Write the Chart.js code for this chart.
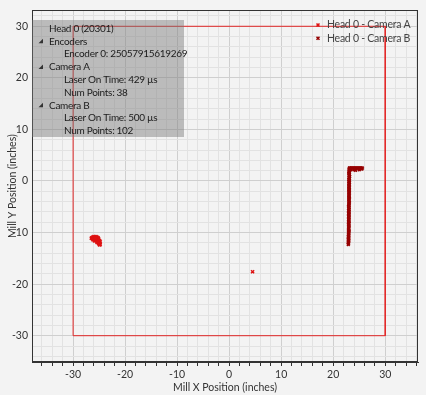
<!DOCTYPE html>
<html>
<head>
<meta charset="utf-8">
<script src="https://cdn.jsdelivr.net/npm/chart.js@4.4.1/dist/chart.umd.min.js"></script>
<style>
html,body{margin:0;padding:0;background:#f3f3f3;}
canvas{display:block;}
</style>
</head>
<body>
<canvas id="c" width="426" height="395"></canvas>
<script>
// ---- data ----
const seriesNames = ["Head 0 - Camera A", "Head 0 - Camera B"];
const frame = [[-30,-30],[-30,30],[30,30],[30,-30],[-30,-30]];
const cameraA = [
  [-26.4,-11.0],[-26.2,-10.9],[-26.0,-10.8],[-25.8,-10.9],[-25.6,-10.8],[-25.4,-10.9],[-25.2,-11.0],
  [-26.3,-11.2],[-26.1,-11.1],[-25.9,-11.2],[-25.7,-11.1],[-25.5,-11.2],[-25.3,-11.1],[-25.1,-11.2],
  [-26.2,-11.4],[-26.0,-11.4],[-25.8,-11.3],[-25.6,-11.4],[-25.4,-11.5],[-25.2,-11.4],[-25.0,-11.5],
  [-25.9,-11.6],[-25.6,-11.6],[-25.3,-11.7],[-25.1,-11.7],[-24.9,-11.6],
  [-25.4,-11.9],[-25.2,-11.9],[-25.0,-11.9],[-24.8,-11.8],
  [-25.1,-12.1],[-24.9,-12.1],[-24.8,-12.3],[-25.0,-12.2],
  [-26.5,-11.1],[-25.7,-11.0],[-24.9,-12.4],
  [4.5,-17.6]
];
const cameraB = [
  [23.10,2.5],[23.05,2.3],[23.15,2.1],[23.05,1.9],[23.10,1.7],[23.00,1.5],[23.10,1.3],[23.05,1.1],
  [23.15,0.9],[23.05,0.7],[23.10,0.5],[23.00,0.3],[23.10,0.1],[23.05,-0.1],[23.10,-0.3],[23.00,-0.5],
  [23.10,-0.7],[23.05,-0.9],[23.00,-1.1],[23.10,-1.3],[23.05,-1.5],[23.00,-1.7],[23.10,-1.9],[23.05,-2.1],
  [23.00,-2.3],[23.10,-2.5],[23.05,-2.7],[23.00,-2.9],[23.05,-3.1],[23.10,-3.3],[23.00,-3.5],[23.05,-3.7],
  [23.00,-3.9],[23.10,-4.1],[23.05,-4.3],[23.00,-4.5],[23.05,-4.7],[22.95,-4.9],[23.05,-5.1],[23.00,-5.3],
  [23.05,-5.5],[22.95,-5.7],[23.05,-5.9],[23.00,-6.1],[22.95,-6.3],[23.05,-6.5],[23.00,-6.7],[22.95,-6.9],
  [23.05,-7.1],[23.00,-7.3],[22.95,-7.5],[23.00,-7.7],[23.05,-7.9],[22.95,-8.1],[23.00,-8.3],[22.95,-8.5],
  [23.05,-8.7],[23.00,-8.9],[22.95,-9.1],[23.00,-9.3],[22.95,-9.5],[23.05,-9.7],[22.95,-9.9],[23.00,-10.1],
  [22.95,-10.3],[23.00,-10.5],[22.90,-10.7],[23.00,-10.9],[22.95,-11.1],[22.90,-11.3],[23.00,-11.5],
  [22.95,-11.7],[22.90,-11.9],[22.95,-12.1],[22.90,-12.3],
  [23.2,2.5],[23.4,2.5],[23.6,2.5],[23.8,2.5],[24.0,2.5],[24.2,2.5],[24.4,2.5],[24.6,2.5],[24.8,2.5],
  [25.0,2.5],[25.2,2.5],[25.4,2.5],[25.6,2.5],
  [23.4,2.2],[24.0,2.2],[24.3,2.1],[25.0,2.2],[25.5,2.3],
  [-26.3,-11.1],[-26.0,-11.3],[-25.7,-11.3],[-25.5,-11.5],[-25.3,-11.3],[-25.8,-11.5],[-25.2,-11.6],[-25.0,-12.0],[-25.5,-11.0]
];
const infoLines = [
  {level:0, text:"Head 0 (20301)"},
  {level:1, text:"Encoders", arrow:true},
  {level:2, text:"Encoder 0: 25057915619269"},
  {level:1, text:"Camera A", arrow:true},
  {level:2, text:"Laser On Time: 429 \u00b5s"},
  {level:2, text:"Num Points: 38"},
  {level:1, text:"Camera B", arrow:true},
  {level:2, text:"Laser On Time: 500 \u00b5s"},
  {level:2, text:"Num Points: 102"}
];
const xTitle = "Mill X Position (inches)";
const yTitle = "Mill Y Position (inches)";
const colorA = "rgb(222,18,18)";
const colorB = "rgb(150,0,0)";

const FONT = "Lato, 'Open Sans', sans-serif";
const toXY = a => a.map(p => ({x:p[0], y:p[1]}));

const overlay = {
  id:'overlay',
  afterDraw(chart){
    const ctx = chart.ctx, a = chart.chartArea;
    ctx.save();
    // plot border
    ctx.strokeStyle = '#333';
    ctx.lineWidth = 1;
    ctx.strokeRect(Math.round(a.left)+0.5, Math.round(a.top)+0.5, Math.round(a.right-a.left)-1, Math.round(a.bottom-a.top)-1);
    // info box
    const bx = Math.round(a.left), by = 20, bw = 152, bh = 117;
    ctx.fillStyle = 'rgba(120,120,120,0.45)';
    ctx.fillRect(bx, by, bw, bh);
    ctx.textBaseline = 'middle';
    ctx.textAlign = 'left';
    ctx.font = "10px " + FONT;
    try { ctx.letterSpacing = '-0.3px'; } catch(e) {}
    ctx.fillStyle = '#1a1a1a';
    infoLines.forEach((l, i) => {
      const y = 28.5 + i*12.8;
      const x = l.level === 2 ? 64 : 49;
      if (l.arrow) {
        ctx.beginPath();
        ctx.moveTo(43, y-2.5); ctx.lineTo(43, y+2); ctx.lineTo(38.5, y+2); ctx.closePath();
        ctx.fillStyle = '#333'; ctx.fill();
        ctx.fillStyle = '#1a1a1a';
      }
      ctx.fillText(l.text, x, y);
    });
    // legend
    ctx.font = "10.5px " + FONT;
    try { ctx.letterSpacing = '-0.25px'; } catch(e) {}
    const cols = [colorA, colorB];
    seriesNames.forEach((n, i) => {
      const y = 25 + i*13.3;
      ctx.strokeStyle = cols[i];
      ctx.beginPath();
      ctx.moveTo(316.5, y-1.5); ctx.lineTo(319.5, y+1.5);
      ctx.moveTo(319.5, y-1.5); ctx.lineTo(316.5, y+1.5);
      ctx.lineWidth = 1.5; ctx.stroke();
      ctx.fillStyle = '#444';
      ctx.fillText(n, 327, y);
    });
    ctx.restore();
  }
};

const gridColor = c => (c.tick && Math.abs(c.tick.value % 10) < 1e-9) ? '#cfcfcf' : '#e2e2e2';
const tickCb = v => (Math.abs(v % 10) < 1e-9) ? String(v) : '';

new Chart(document.getElementById('c'), {
  type:'scatter',
  data:{
    datasets:[
      {label:'frame', data:toXY(frame), showLine:true, borderColor:'rgb(226,40,40)', borderWidth:1, pointRadius:0, order:3},
      {label:seriesNames[1], data:toXY(cameraB), pointStyle:'crossRot', pointRadius:2, borderColor:colorB, backgroundColor:colorB, borderWidth:1.6, order:2},
      {label:seriesNames[0], data:toXY(cameraA), pointStyle:'crossRot', pointRadius:2.2, borderColor:colorA, backgroundColor:colorA, borderWidth:1.5, order:1}
    ]
  },
  options:{
    responsive:false,
    animation:false,
    devicePixelRatio:1,
    layout:{padding:{top:7,right:8,left:0,bottom:0}},
    plugins:{legend:{display:false}, tooltip:{enabled:false}},
    scales:{
      x:{
        type:'linear', min:-37.9, max:36.3,
        afterFit(s){ s.height = 33; },
        ticks:{stepSize:2, includeBounds:false, autoSkip:false, maxRotation:0, callback:tickCb, color:'#333', font:{family:FONT, size:10.5}, padding:2},
        grid:{color:gridColor, tickColor:'#333', tickLength:4, drawTicks:true},
        border:{display:true, color:'#333'},
        title:{display:true, text:xTitle, color:'#333', font:{family:FONT, size:10.5}, padding:{top:0,bottom:1}}
      },
      y:{
        type:'linear', min:-35.1, max:33.1,
        afterFit(s){ s.width = 32; },
        ticks:{stepSize:2, includeBounds:false, autoSkip:false, callback:tickCb, color:'#333', font:{family:FONT, size:10.5}, padding:4},
        grid:{color:gridColor, drawTicks:false},
        border:{display:true, color:'#333'},
        title:{display:true, text:yTitle, color:'#333', font:{family:FONT, size:10.5}, padding:{top:6,bottom:0}}
      }
    }
  },
  plugins:[overlay]
});
</script>
</body>
</html>
